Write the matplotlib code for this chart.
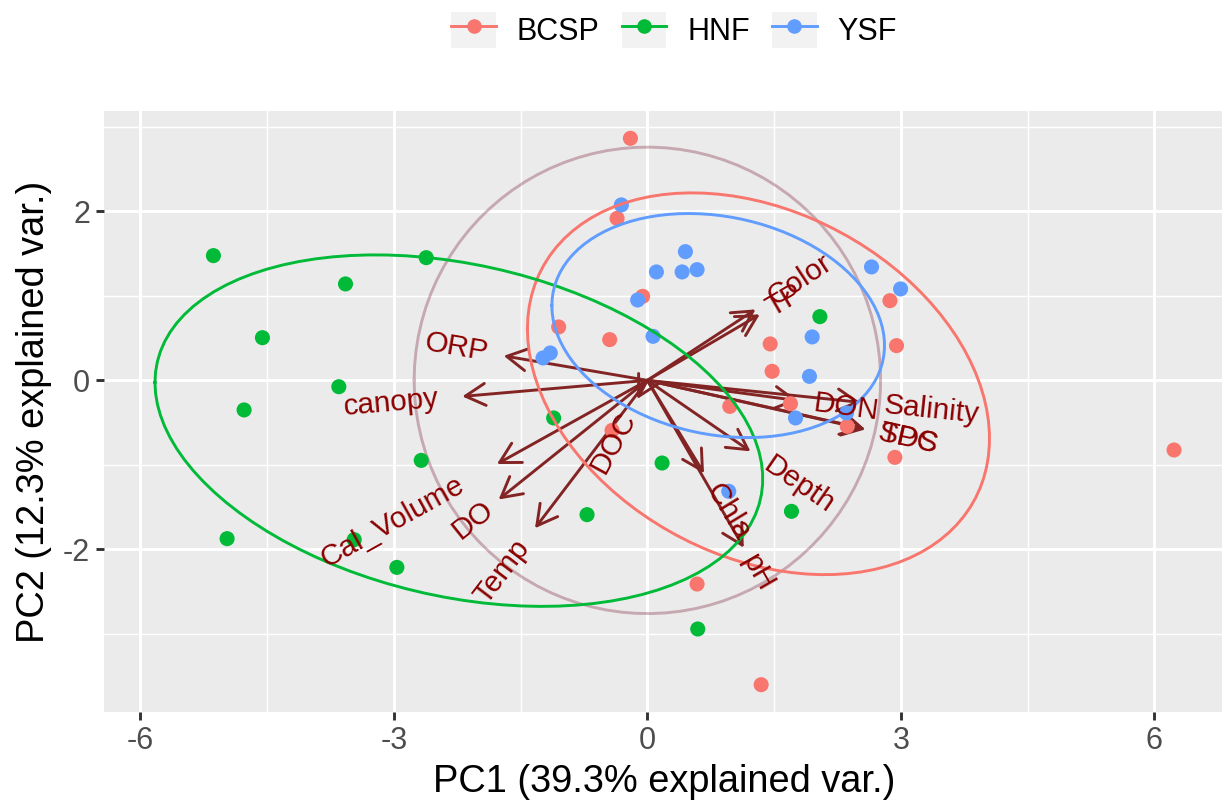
import numpy as np
import matplotlib
matplotlib.use("Agg")
from matplotlib import pyplot as plt
from matplotlib.lines import Line2D
from matplotlib.patches import Rectangle
from matplotlib.legend_handler import HandlerLine2D
import matplotlib.transforms as mtransforms

plt.rcParams["font.family"] = ["Liberation Sans", "DejaVu Sans"]
plt.rcParams["axes.unicode_minus"] = False

# PCA scores per site group
bcsp_pc1 = [-0.201, -0.359, -0.056, -1.050, -0.446, 1.453, 1.476, 2.870, 2.948,
            1.693, 0.975, 2.365, -0.418, 2.929, 0.588, 1.346, 6.232]
bcsp_pc2 = [2.864, 1.917, 0.994, 0.632, 0.482, 0.431, 0.107, 0.943, 0.411,
            -0.276, -0.308, -0.544, -0.592, -0.911, -2.410, -3.601, -0.824]

hnf_pc1 = [-5.135, -2.617, -3.572, -4.555, -3.651, -4.772, -2.676, -4.973,
           -3.469, -2.964, -1.109, 0.174, -0.714, 1.705, 0.596, 2.041]
hnf_pc2 = [1.476, 1.452, 1.141, 0.505, -0.075, -0.350, -0.947, -1.873,
           -1.885, -2.213, -0.445, -0.978, -1.589, -1.550, -2.942, 0.754]

ysf_pc1 = [-0.308, 0.450, 0.107, 0.411, 0.588, -0.115, 0.067, -1.149,
           -1.235, 2.652, 2.996, 1.950, 1.918, 2.356, 1.753, 0.963]
ysf_pc2 = [2.076, 1.523, 1.283, 1.283, 1.310, 0.951, 0.521, 0.324,
           0.265, 1.342, 1.082, 0.514, 0.047, -0.386, -0.445, -1.313]

groups = ["BCSP", "HNF", "YSF"]
group_colors = ["#F8766D", "#00BA38", "#619CFF"]

# variable loadings (arrow tips)
var_names = ["TP", "Color", "ORP", "canopy", "Cal_Volume", "DO", "Temp", "DOC",
             "Chla", "pH", "Depth", "DON", "Salinity", "TDS", "SPC"]
var_pc1 = [1.33, 1.28, -1.70, -2.19, -1.78, -1.76, -1.33, -0.12,
           0.67, 1.14, 1.22, 1.78, 2.52, 2.58, 2.56]
var_pc2 = [0.78, 0.84, 0.29, -0.19, -0.99, -1.41, -1.75, -0.22,
           -1.10, -1.98, -0.84, -0.24, -0.26, -0.58, -0.57]

circle_r = 2.76
ellipse_prob = 0.68
pct_var = [39.3, 12.3]


def group_ellipse(x, y, prob, n=100):
    xy = np.column_stack([x, y])
    mu = xy.mean(axis=0)
    sigma = np.cov(xy, rowvar=False)
    ed = np.sqrt(-2 * np.log(1 - prob))  # qchisq(prob, df=2)
    theta = np.linspace(-np.pi, np.pi, n)
    unit = np.column_stack([np.cos(theta), np.sin(theta)])
    return unit @ np.linalg.cholesky(sigma).T * ed + mu


class KeyHandler(HandlerLine2D):
    def create_artists(self, legend, orig_handle, xdescent, ydescent,
                       width, height, fontsize, trans):
        bg = Rectangle((-xdescent, -ydescent), width, height,
                       facecolor="#F2F2F2", edgecolor="none", transform=trans)
        arts = super().create_artists(legend, orig_handle, xdescent, ydescent,
                                      width, height, fontsize, trans)
        return [bg] + list(arts)


scores = [(bcsp_pc1, bcsp_pc2), (hnf_pc1, hnf_pc2), (ysf_pc1, ysf_pc2)]
ellipses = [group_ellipse(x, y, ellipse_prob) for x, y in scores]
theta = np.linspace(-np.pi, np.pi, 100)
circ = np.column_stack([circle_r * np.cos(theta), circle_r * np.sin(theta)])

# axis limits like ggplot: data range + 5 %
allx = np.concatenate([np.concatenate([np.r_[x] for x, _ in scores]),
                       np.concatenate([e[:, 0] for e in ellipses]), circ[:, 0], var_pc1, [0]])
ally = np.concatenate([np.concatenate([np.r_[y] for _, y in scores]),
                       np.concatenate([e[:, 1] for e in ellipses]), circ[:, 1], var_pc2, [0]])
xlo, xhi = allx.min(), allx.max()
ylo, yhi = ally.min(), ally.max()
xlim = (xlo - 0.05 * (xhi - xlo), xhi + 0.05 * (xhi - xlo))
ylim = (ylo - 0.05 * (yhi - ylo), yhi + 0.05 * (yhi - ylo))

W, H, dpi = 1222, 808, 100
fig = plt.figure(figsize=(W / dpi, H / dpi), dpi=dpi)
ax_left, ax_bottom, ax_h = 104, 96, 601
ax_w = ax_h * (xlim[1] - xlim[0]) / (ylim[1] - ylim[0])
ax = fig.add_axes([ax_left / W, ax_bottom / H, ax_w / W, ax_h / H])
ax.set_xlim(xlim)
ax.set_ylim(ylim)
ax.set_aspect("equal", adjustable="datalim")

# theme_gray look
ax.set_facecolor("#EBEBEB")
for s in ax.spines.values():
    s.set_visible(False)
ax.set_xticks([-6, -3, 0, 3, 6])
ax.set_yticks([-2, 0, 2])
ax.set_xticks([-4.5, -1.5, 1.5, 4.5], minor=True)
ax.set_yticks([-3, -1, 1, 3], minor=True)
ax.grid(which="major", color="white", lw=2.1)
ax.grid(which="minor", color="white", lw=1.05)
ax.set_axisbelow(True)
ax.tick_params(which="major", length=6, width=2.1, color="#333333",
               labelsize=22, labelcolor="#4D4D4D", pad=4)
ax.tick_params(which="minor", length=0)
ax.set_xlabel("PC1 (%.1f%% explained var.)" % pct_var[0], fontsize=27.4, labelpad=6)
ax.set_ylabel("PC2 (%.1f%% explained var.)" % pct_var[1], fontsize=27.4, labelpad=8)

# correlation circle
ax.plot(circ[:, 0], circ[:, 1], color="#7C253A", alpha=1 / 3, lw=2.1, zorder=2)

# variable arrows
for vx, vy in zip(var_pc1, var_pc2):
    ax.annotate("", xy=(vx, vy), xytext=(0, 0), zorder=3,
                arrowprops=dict(arrowstyle="->,head_length=0.4,head_width=0.22",
                                color="#832424", lw=2.1, mutation_scale=36,
                                shrinkA=0, shrinkB=0))

# group scores and ellipses
handles = []
for (x, y), ell, name, c in zip(scores, ellipses, groups, group_colors):
    ax.scatter(x, y, s=118, color=c, edgecolors="none", zorder=4)
    handles.append(Line2D([], [], color=c, lw=2.1, marker="o", markersize=10.5,
                          markeredgewidth=0))
for ell, c in zip(ellipses, group_colors):
    ax.plot(ell[:, 0], ell[:, 1], color=c, lw=2.1, zorder=5)

# variable labels: rotated along arrow, pushed 25 % of their width past the tip
renderer = fig.canvas.get_renderer()
for name, vx, vy in zip(var_names, var_pc1, var_pc2):
    ang = np.degrees(np.arctan(vy / vx))
    sgn = np.sign(vx)
    t = ax.text(vx, vy, name, color="#8B0000", fontsize=21.3,
                ha="left" if sgn > 0 else "right", va="center",
                rotation_mode="anchor", zorder=6)
    w = t.get_window_extent(renderer).width
    off = 0.25 * w * sgn
    t.set_transform(mtransforms.offset_copy(
        ax.transData, fig=fig, x=off * np.cos(np.radians(ang)),
        y=off * np.sin(np.radians(ang)), units="dots"))
    t.set_rotation(ang)

fig.legend(handles, groups, loc="center", bbox_to_anchor=(674 / W, 1 - 30 / H),
           ncol=3, frameon=False, fontsize=22, handlelength=1.47,
           handleheight=1.47, handletextpad=0.68, columnspacing=0.72,
           handler_map={Line2D: KeyHandler()})

fig.savefig("out.png", dpi=dpi, facecolor="white")
